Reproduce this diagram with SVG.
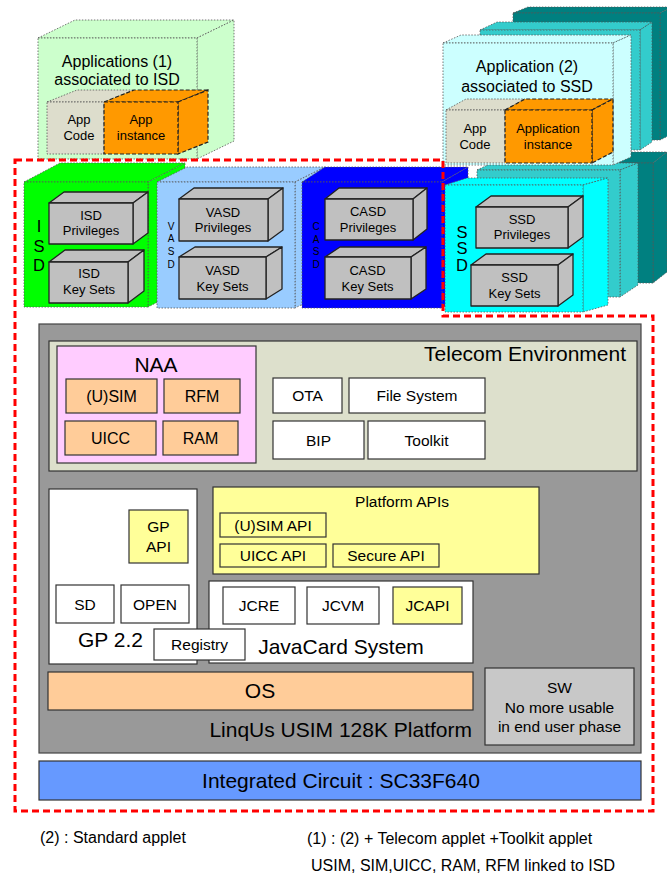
<svg xmlns="http://www.w3.org/2000/svg" width="667" height="874" viewBox="0 0 667 874">
<style>
text{font-family:"Liberation Sans",Arial,sans-serif;fill:#000;text-anchor:middle}
.t10{font-size:10px}
.t13{font-size:13px}
.t16b{font-size:16.5px}
.t15{font-size:15.5px}
.t16{font-size:16px}
.t21{font-size:21px}
.end{text-anchor:end}
.start{text-anchor:start}
.dot{stroke:#555;stroke-width:0.8;stroke-dasharray:1.5 1.5}
.dash{stroke:#222;stroke-width:1.2;stroke-dasharray:4 2}
.gb{fill:#c0c0c0;stroke:#222;stroke-width:1.3;stroke-linejoin:round}
.bx{stroke:#333;stroke-width:1.2}
.red{fill:none;stroke:#ff0000;stroke-width:3;stroke-dasharray:7 4}
</style>
<rect width="667" height="874" fill="#fff"/>

<!-- Security domain blocks -->
<g id="isd">
  <polygon class="dot" fill="#00ff00" points="24,182 60,163 185,163 148,182"/>
  <polygon class="dot" fill="#00ff00" points="148,182 185,163 185,288 148,307"/>
  <rect class="dot" fill="#00ff00" x="24" y="182" width="124" height="125"/>
  <text class="t16b" x="39" y="232">I</text>
  <text class="t16b" x="39" y="251.5">S</text>
  <text class="t16b" x="39" y="270.5">D</text>
  <g id="isd-privileges">
    <polygon class="gb" points="49,203 64,192 148,192 133,203"/>
    <polygon class="gb" points="133,203 148,192 148,233 133,244"/>
    <rect class="gb" x="49" y="203" width="84" height="41"/>
    <text class="t13" x="91" y="220">ISD</text>
    <text class="t13" x="91" y="235">Privileges</text>
  </g>
  <g id="isd-keysets">
    <polygon class="gb" points="49,262 65,250 144,250 128,262"/>
    <polygon class="gb" points="128,262 144,250 144,291 128,303"/>
    <rect class="gb" x="49" y="262" width="79" height="41"/>
    <text class="t13" x="89" y="278">ISD</text>
    <text class="t13" x="89" y="294">Key Sets</text>
  </g>
</g>

<g id="vasd">
  <polygon class="dot" fill="#99ccff" points="157,182 187,167 325,167 295,182"/>
  <polygon class="dot" fill="#99ccff" points="295,182 325,167 325,293 295,308"/>
  <rect class="dot" fill="#99ccff" x="157" y="182" width="138" height="126"/>
  <text class="t10" x="171" y="230">V</text>
  <text class="t10" x="171" y="242">A</text>
  <text class="t10" x="171" y="255">S</text>
  <text class="t10" x="171" y="268">D</text>
  <g id="vasd-privileges">
    <polygon class="gb" points="179,199 194,188 283,188 268,199"/>
    <polygon class="gb" points="268,199 283,188 283,230 268,241"/>
    <rect class="gb" x="179" y="199" width="89" height="42"/>
    <text class="t13" x="223" y="216.5">VASD</text>
    <text class="t13" x="223" y="231.5">Privileges</text>
  </g>
  <g id="vasd-keysets">
    <polygon class="gb" points="179,257 195,247 282,247 266,257"/>
    <polygon class="gb" points="266,257 282,247 282,289 266,299"/>
    <rect class="gb" x="179" y="257" width="87" height="42"/>
    <text class="t13" x="222.5" y="275">VASD</text>
    <text class="t13" x="222.5" y="290.5">Key Sets</text>
  </g>
</g>

<g id="casd">
  <polygon class="dot" fill="#0000ff" points="302,182 325,167 468,167 442,182"/>
  <polygon class="dot" fill="#0000ff" points="442,182 468,167 468,293 442,308"/>
  <rect class="dot" fill="#0000ff" x="302" y="182" width="140" height="126"/>
  <text class="t10" x="316" y="230">C</text>
  <text class="t10" x="316" y="243">A</text>
  <text class="t10" x="316" y="255">S</text>
  <text class="t10" x="316" y="268">D</text>
  <g id="casd-privileges">
    <polygon class="gb" points="325,199 339,188 427,188 413,199"/>
    <polygon class="gb" points="413,199 427,188 427,229 413,240"/>
    <rect class="gb" x="325" y="199" width="88" height="41"/>
    <text class="t13" x="368" y="216">CASD</text>
    <text class="t13" x="368" y="231.5">Privileges</text>
  </g>
  <g id="casd-keysets">
    <polygon class="gb" points="325,257 340,247 426,247 411,257"/>
    <polygon class="gb" points="411,257 426,247 426,289 411,299"/>
    <rect class="gb" x="325" y="257" width="86" height="42"/>
    <text class="t13" x="367.5" y="275">CASD</text>
    <text class="t13" x="367.5" y="290.5">Key Sets</text>
  </g>
</g>

<g id="ssd-stack">
  <!-- rear SSD instances -->
  <polygon class="dot" fill="#008080" points="500,163 514,152 667,152 653,163"/>
  <polygon class="dot" fill="#008080" points="653,163 667,152 667,272 653,283"/>
  <rect class="dot" fill="#008080" x="500" y="163" width="153" height="120"/>
  <polygon class="dot" fill="#33cccc" points="477,170 492,163 638,163 620,170"/>
  <polygon class="dot" fill="#33cccc" points="620,170 638,163 638,285 620,297"/>
  <rect class="dot" fill="#33cccc" x="477" y="170" width="143" height="127"/>
  <!-- front SSD -->
  <g id="ssd">
    <polygon class="dot" fill="#00ffff" points="445,185 467,178 608,178 583,185"/>
    <polygon class="dot" fill="#00ffff" points="583,185 608,178 608,305 583,312"/>
    <rect class="dot" fill="#00ffff" x="445" y="185" width="138" height="127"/>
    <text class="t16b" x="462" y="237.5">S</text>
    <text class="t16b" x="462" y="254">S</text>
    <text class="t16b" x="462" y="270.5">D</text>
    <g id="ssd-privileges">
      <polygon class="gb" points="476,207 491,196 583,196 568,207"/>
      <polygon class="gb" points="568,207 583,196 583,237 568,248"/>
      <rect class="gb" x="476" y="207" width="92" height="41"/>
      <text class="t13" x="522" y="223.5">SSD</text>
      <text class="t13" x="522" y="239">Privileges</text>
    </g>
    <g id="ssd-keysets">
      <polygon class="gb" points="471,265 486,254 573,254 558,265"/>
      <polygon class="gb" points="558,265 573,254 573,295 558,306"/>
      <rect class="gb" x="471" y="265" width="87" height="41"/>
      <text class="t13" x="514.5" y="282">SSD</text>
      <text class="t13" x="514.5" y="297.5">Key Sets</text>
    </g>
  </g>
</g>

<!-- Applications -->
<g id="app1">
  <polygon class="dot" fill="#ccffcc" points="38,38 75,20 234,20 197,38"/>
  <polygon class="dot" fill="#ccffcc" points="197,38 234,20 234,141 197,159"/>
  <rect class="dot" fill="#ccffcc" x="38" y="38" width="159" height="121"/>
  <text class="t16" x="117" y="66.5">Applications (1)</text>
  <text class="t16" x="117" y="85">associated to ISD</text>
  <g id="app1-code">
    <polygon class="dot" fill="#ddddcc" points="47,102 77,90 134,90 104,102"/>
    <rect class="dot" fill="#ddddcc" x="47" y="102" width="57" height="52"/>
    <text class="t13" x="79" y="124">App</text>
    <text class="t13" x="79" y="140">Code</text>
  </g>
  <g id="app1-instance">
    <polygon class="dash" fill="#ff9900" points="104,102 134,90 208,90 178,102"/>
    <polygon class="dash" fill="#ff9900" points="178,102 208,90 208,142 178,154"/>
    <rect class="dash" fill="#ff9900" x="104" y="102" width="74" height="52"/>
    <text class="t13" x="141" y="124">App</text>
    <text class="t13" x="141" y="140">instance</text>
  </g>
</g>

<g id="app2">
  <polygon class="dot" fill="#008080" points="513,13 528,7 672,7 660,13"/>
  <polygon class="dot" fill="#008080" points="660,13 672,7 672,134 660,140"/>
  <rect class="dot" fill="#008080" x="513" y="13" width="147" height="127"/>
  <polygon class="dot" fill="#33cccc" points="480,30 497,22 652,22 640,30"/>
  <polygon class="dot" fill="#33cccc" points="640,30 652,22 652,142 640,150"/>
  <rect class="dot" fill="#33cccc" x="480" y="30" width="160" height="120"/>
  <polygon class="dot" fill="#ccffff" points="443,43 461,35 631,35 613,43"/>
  <polygon class="dot" fill="#ccffff" points="613,43 631,35 631,157 613,165"/>
  <rect class="dot" fill="#ccffff" x="443" y="43" width="170" height="122"/>
  <text class="t16" x="527" y="72">Application (2)</text>
  <text class="t16" x="527" y="91.5">associated to SSD</text>
  <g id="app2-code">
    <polygon class="dot" fill="#ddddcc" points="446,110 466,99 525,99 505,110"/>
    <rect class="dot" fill="#ddddcc" x="446" y="110" width="59" height="53"/>
    <text class="t13" x="475" y="132.5">App</text>
    <text class="t13" x="475" y="148.5">Code</text>
  </g>
  <g id="app2-instance">
    <polygon class="dash" fill="#ff9900" points="505,110 525,99 613,99 592,110"/>
    <polygon class="dash" fill="#ff9900" points="592,110 613,99 613,152 592,163"/>
    <rect class="dash" fill="#ff9900" x="505" y="110" width="87" height="53"/>
    <text class="t13" x="548" y="132.5">Application</text>
    <text class="t13" x="548" y="148.5">instance</text>
  </g>
</g>

<!-- Card platform -->
<g id="platform">
  <rect fill="#999999" stroke="#444" stroke-width="1.2" x="39" y="324" width="602" height="429"/>
  <text class="t21 end" x="472" y="737">LinqUs USIM 128K Platform</text>
</g>

<g id="telecom">
  <rect class="bx" fill="#dde0cc" x="49" y="341" width="588" height="130"/>
  <text class="t21 end" x="626" y="361">Telecom Environment</text>
  <g id="naa">
    <rect class="bx" fill="#ffccff" x="57" y="346" width="199" height="117"/>
    <text class="t21" x="156" y="372">NAA</text>
    <g id="usim"><rect class="bx" fill="#ffcc99" x="66" y="379" width="91" height="34"/><text class="t16" x="111.5" y="401.5">(U)SIM</text></g>
    <g id="rfm"><rect class="bx" fill="#ffcc99" x="164" y="379" width="76" height="34"/><text class="t16" x="202" y="401.5">RFM</text></g>
    <g id="uicc"><rect class="bx" fill="#ffcc99" x="65" y="421" width="91" height="34"/><text class="t16" x="110.5" y="443.5">UICC</text></g>
    <g id="ram"><rect class="bx" fill="#ffcc99" x="163" y="421" width="75" height="34"/><text class="t16" x="200.5" y="443.5">RAM</text></g>
  </g>
  <g id="ota"><rect class="bx" fill="#fff" x="273" y="378" width="69" height="35"/><text class="t15" x="307.5" y="401">OTA</text></g>
  <g id="filesystem"><rect class="bx" fill="#fff" x="349" y="378" width="136" height="35"/><text class="t15" x="417" y="401">File System</text></g>
  <g id="bip"><rect class="bx" fill="#fff" x="273" y="421" width="91" height="38"/><text class="t15" x="318.5" y="445.5">BIP</text></g>
  <g id="toolkit"><rect class="bx" fill="#fff" x="368" y="421" width="117" height="38"/><text class="t15" x="426.5" y="445.5">Toolkit</text></g>
</g>

<g id="gp">
  <rect class="bx" fill="#fff" x="49" y="489" width="148" height="175"/>
  <text class="t21" x="110.5" y="647">GP 2.2</text>
  <g id="gp-api"><rect class="bx" fill="#ffff99" x="129" y="510" width="59" height="53"/><text class="t15" x="158.5" y="532">GP</text><text class="t15" x="158.5" y="551.5">API</text></g>
  <g id="sd"><rect class="bx" fill="#fff" x="56" y="585" width="58" height="38"/><text class="t15" x="85" y="609.5">SD</text></g>
  <g id="open"><rect class="bx" fill="#fff" x="121" y="585" width="68" height="38"/><text class="t15" x="155" y="609.5">OPEN</text></g>
</g>

<g id="platform-apis">
  <rect class="bx" fill="#ffff99" x="213" y="487" width="326" height="87"/>
  <text class="t15" x="402" y="506.5">Platform APIs</text>
  <g id="usim-api"><rect class="bx" fill="#ffff99" x="220" y="513" width="106" height="24"/><text class="t15" x="273" y="530.5">(U)SIM API</text></g>
  <g id="uicc-api"><rect class="bx" fill="#ffff99" x="220" y="544" width="106" height="23"/><text class="t15" x="273" y="561">UICC API</text></g>
  <g id="secure-api"><rect class="bx" fill="#ffff99" x="333" y="544" width="106" height="23"/><text class="t15" x="386" y="561">Secure API</text></g>
</g>

<g id="javacard">
  <rect class="bx" fill="#fff" x="209" y="581" width="264" height="82"/>
  <text class="t21" x="341" y="654">JavaCard System</text>
  <g id="jcre"><rect class="bx" fill="#fff" x="223" y="587" width="72" height="37"/><text class="t15" x="259" y="611">JCRE</text></g>
  <g id="jcvm"><rect class="bx" fill="#fff" x="307" y="587" width="72" height="37"/><text class="t15" x="343" y="611">JCVM</text></g>
  <g id="jcapi"><rect class="bx" fill="#ffff99" x="393" y="587" width="69" height="37"/><text class="t15" x="427.5" y="611">JCAPI</text></g>
</g>

<g id="registry"><rect class="bx" fill="#fff" x="154" y="629" width="91" height="31"/><text class="t15" x="199.5" y="650">Registry</text></g>

<g id="os"><rect class="bx" fill="#ffcc99" x="48" y="672" width="425" height="38"/><text class="t21" x="260" y="698">OS</text></g>

<g id="sw">
  <rect class="bx" fill="#c8c8c8" x="485" y="668" width="149" height="77"/>
  <text class="t15" x="559.5" y="693">SW</text>
  <text class="t15" x="559.5" y="713">No more usable</text>
  <text class="t15" x="559.5" y="731.5">in end user phase</text>
</g>

<g id="ic">
  <rect class="bx" fill="#6699ff" x="39" y="761" width="602" height="39"/>
  <text class="t21" x="341" y="788">Integrated Circuit : SC33F640</text>
</g>

<!-- Card boundary -->
<path class="red" d="M15,160 H443 V316 H653 V811 H15 Z"/>

<!-- Legend -->
<g id="legend">
  <text class="t16 start" x="40" y="843">(2) : Standard applet</text>
  <text class="t16 start" x="307" y="844">(1) : (2) + Telecom applet +Toolkit applet</text>
  <text class="t16 start" x="311" y="871">USIM, SIM,UICC, RAM, RFM linked to ISD</text>
</g>
</svg>
